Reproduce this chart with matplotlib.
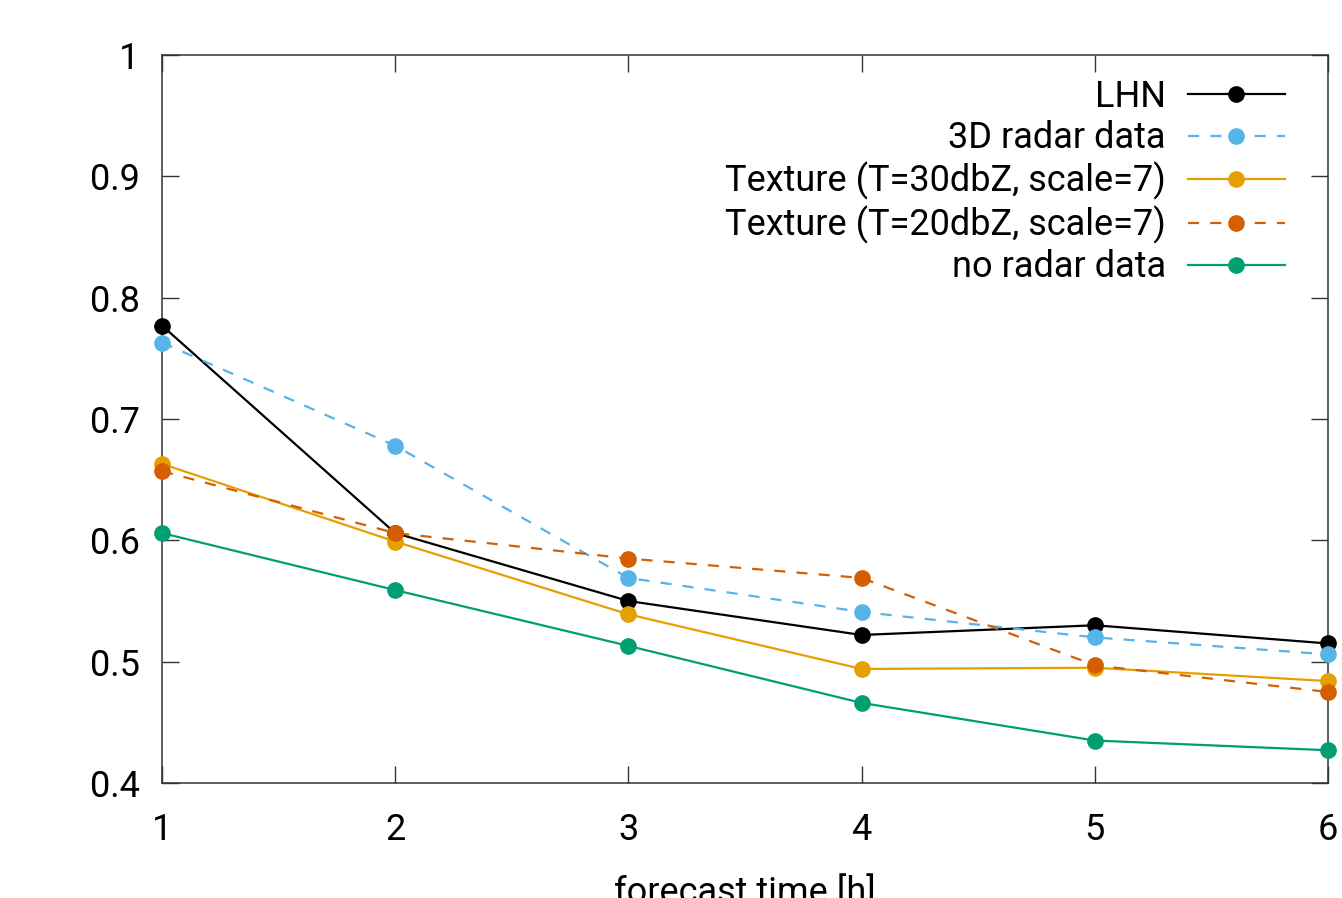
import matplotlib
matplotlib.use("Agg")
import matplotlib.pyplot as plt

plt.rcParams['font.family'] = ['Roboto', 'DejaVu Sans']

# --- data ---
hours = [1, 2, 3, 4, 5, 6]
lhn = [0.777, 0.606, 0.550, 0.522, 0.530, 0.515]
radar_3d = [0.763, 0.678, 0.569, 0.541, 0.520, 0.506]
texture_30 = [0.663, 0.599, 0.539, 0.494, 0.495, 0.484]
texture_20 = [0.657, 0.606, 0.585, 0.569, 0.497, 0.475]
no_radar = [0.606, 0.559, 0.513, 0.466, 0.435, 0.427]

y_ticks = [0.4, 0.5, 0.6, 0.7, 0.8, 0.9, 1.0]
y_tick_labels = ["0.4", "0.5", "0.6", "0.7", "0.8", "0.9", "1"]

fig = plt.figure(figsize=(13.42, 8.98), dpi=100)
ax = fig.add_axes([162 / 1342, 1 - 783 / 898, (1328 - 162) / 1342, (783 - 55) / 898])

dash = (0, (5, 5))
series = [
    (lhn, "LHN", "#000000", "-"),
    (radar_3d, "3D radar data", "#56b4e9", dash),
    (texture_30, "Texture (T=30dbZ, scale=7)", "#e69f00", "-"),
    (texture_20, "Texture (T=20dbZ, scale=7)", "#d55e00", dash),
    (no_radar, "no radar data", "#009e73", "-"),
]
for vals, lab, col, ls in series:
    ax.plot(hours, vals, color=col, linestyle=ls, linewidth=1.6,
            marker="o", markersize=11, label=lab, clip_on=False, zorder=3)

ax.set_xlim(1, 6)
ax.set_ylim(0.4, 1.0)
ax.set_xticks(hours)
ax.set_yticks(y_ticks)
ax.set_yticklabels(y_tick_labels)
ax.tick_params(direction="in", length=12, width=1.0, labelsize=26,
               top=True, right=True, colors="#333333", labelcolor="black")
ax.tick_params(axis="x", pad=21)
ax.tick_params(axis="y", pad=16)
for sp in ax.spines.values():
    sp.set_color("#333333")
    sp.set_linewidth(1.1)

# reference crops the axis title at the bottom edge
ax.set_xlabel("forecast time [h]", fontsize=26, labelpad=19)

ax.legend(loc="upper right", bbox_to_anchor=(1285 / 1342, 1 - 79 / 898),
          bbox_transform=fig.transFigure, frameon=False, markerfirst=False,
          fontsize=26, handlelength=2.7, handletextpad=0.6, labelspacing=0.15,
          borderpad=0, borderaxespad=0)

fig.savefig("out.png", dpi=100)
